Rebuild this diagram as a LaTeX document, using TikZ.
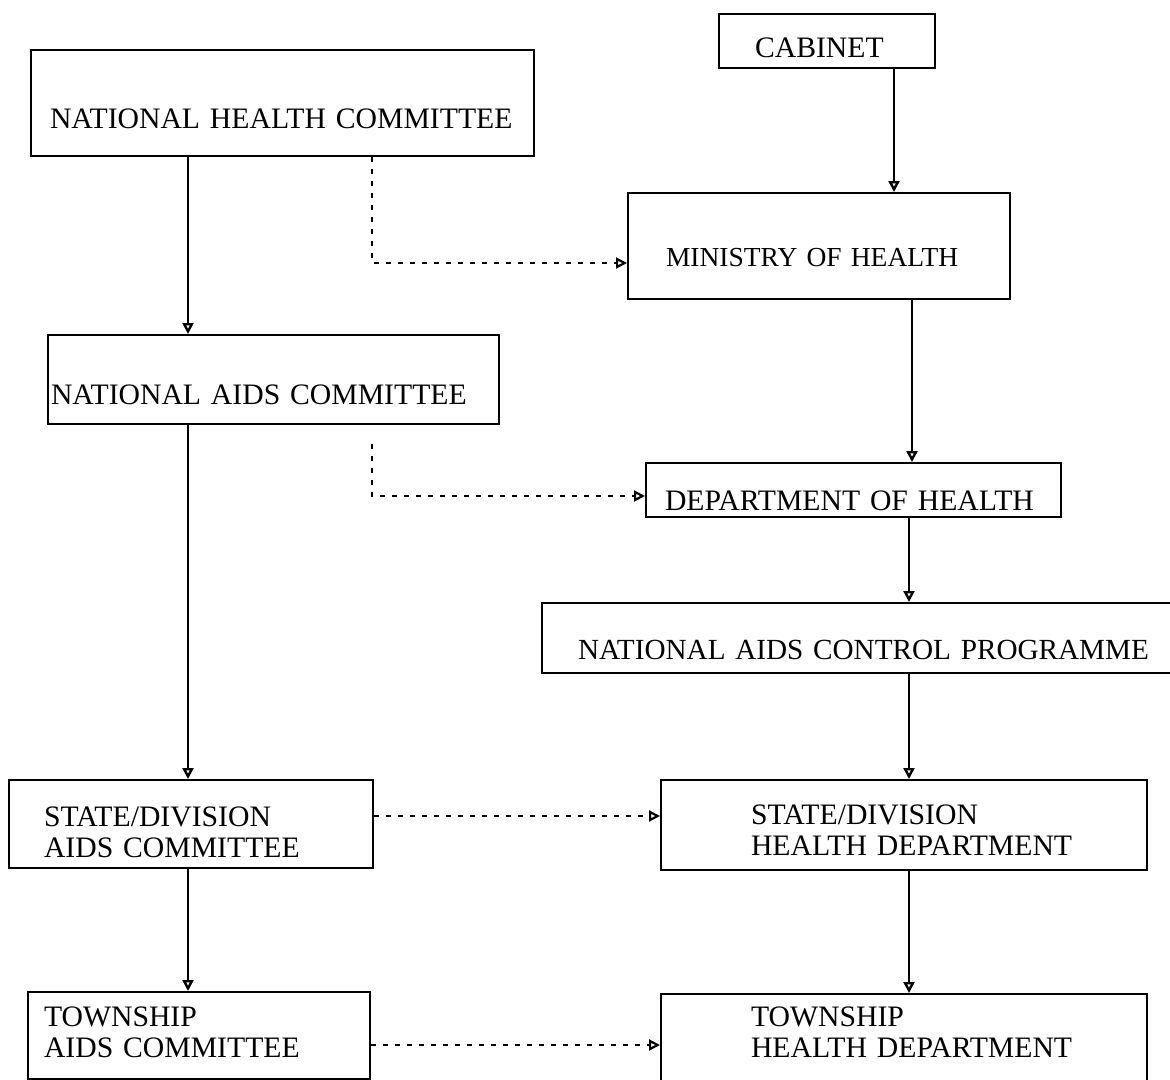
\documentclass[tikz,border=0pt]{standalone}
\usepackage{fontspec}
\setmainfont{Liberation Serif}
\usetikzlibrary{arrows.meta}

\begin{document}
\begin{tikzpicture}[x=1pt,y=-1pt,
  box/.style={draw,shape=rectangle,anchor=north west,inner sep=0pt,align=left,
    line width=2pt,font=\fontsize{29.7}{31}\selectfont},
  arr/.style={-{Triangle[open,length=11pt,width=11pt]},line width=2.4pt},
  link/.style={arr,line width=2.2pt,dash pattern=on 5pt off 7pt}]

  \fill[white] (0,0) rectangle (1170,1079);
  \useasboundingbox (0,0) rectangle (1170,1079);
  \clip (0,0) rectangle (1170,1079);

  \node[box,inner xsep=36pt,text width=144pt,text height=43pt,text depth=11pt] (cab) at (718,13) {CABINET};
  \node[box,inner xsep=19pt,text width=465pt,text height=78pt,text depth=28pt] (nhc) at (30,49) {NATIONAL HEALTH COMMITTEE};
  \node[box,inner xsep=38pt,text width=306pt,text height=73pt,text depth=33pt,font=\fontsize{27.5}{31}\selectfont] (moh) at (627,192) {\mbox{MINISTRY OF HEALTH}};
  \node[box,inner xsep=3pt,text width=445pt,text height=69pt,text depth=20pt] (nac) at (47,334) {NATIONAL AIDS COMMITTEE};
  \node[box,inner xsep=19pt,text width=377pt,text height=47pt,text depth=7pt] (doh) at (645,462) {\mbox{DEPARTMENT OF HEALTH}};
  \node[box,inner xsep=36pt,text width=608pt,text height=56pt,text depth=14pt,font=\fontsize{29.2}{31}\selectfont] (nacp) at (541,602) {NATIONAL AIDS CONTROL PROGRAMME};
  \node[box,inner xsep=35pt,text width=294pt,text height=46pt,text depth=42pt] (sdac) at (8,779) {STATE/DIVISION\\AIDS COMMITTEE};
  \node[box,inner xsep=90pt,text width=306pt,text height=44pt,text depth=46pt] (sdhd) at (660,779) {STATE/DIVISION\\\mbox{HEALTH DEPARTMENT}};
  \node[box,inner xsep=16pt,text width=310pt,text height=34pt,text depth=53pt] (tac) at (27,991) {TOWNSHIP\\AIDS COMMITTEE};
  \node[box,inner xsep=90pt,text width=306pt,text height=32pt,text depth=120pt] (thd) at (660,993) {TOWNSHIP\\\mbox{HEALTH DEPARTMENT}};

  \draw[arr] (894,0 |- cab.south) -- (894,0 |- moh.north);
  \draw[arr] (188,0 |- nhc.south) -- (188,0 |- nac.north);
  \draw[arr] (912,0 |- moh.south) -- (912,0 |- doh.north);
  \draw[arr] (188,0 |- nac.south) -- (188,0 |- sdac.north);
  \draw[arr] (909,0 |- doh.south) -- (909,0 |- nacp.north);
  \draw[arr] (909,0 |- nacp.south) -- (909,0 |- sdhd.north);
  \draw[arr] (188,0 |- sdac.south) -- (188,0 |- tac.north);
  \draw[arr] (909,0 |- sdhd.south) -- (909,0 |- thd.north);

  \draw[link] (372,0 |- nhc.south) |- (0,263 -| moh.west);
  \draw[link,shorten <=19pt] (372,0 |- nac.south) |- (0,496 -| doh.west);
  \draw[link] (sdac.east |- 0,816) -- (0,816 -| sdhd.west);
  \draw[link] (tac.east |- 0,1045) -- (0,1045 -| thd.west);

\end{tikzpicture}
\end{document}
